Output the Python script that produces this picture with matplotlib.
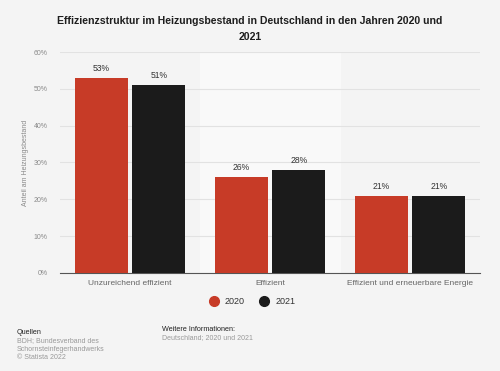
import matplotlib
matplotlib.use("Agg")
import matplotlib.pyplot as plt
import numpy as np
from matplotlib.lines import Line2D

categories = ["Unzureichend effizient", "Effizient", "Effizient und erneuerbare Energie"]
series_names = ["2020", "2021"]
values_2020 = [53, 26, 21]
values_2021 = [51, 28, 21]
yticks = [0, 10, 20, 30, 40, 50, 60]
ytick_labels = ["0%", "10%", "20%", "30%", "40%", "50%", "60%"]

red = "#c73b27"
black = "#1b1b1b"
bg = "#f4f4f4"

plt.rcParams['font.family'] = ['Liberation Sans', 'DejaVu Sans']

fig = plt.figure(figsize=(5, 3.71), dpi=100, facecolor=bg)
ax = fig.add_axes([0.12, 0.2642, 0.84, 0.5956])
ax.set_facecolor(bg)

x = np.arange(len(categories))
w = 0.375
gap = 0.035
ax.axvspan(0.5, 1.5, color="#f9f9f9", zorder=0)
b1 = ax.bar(x - w/2 - gap/2, values_2020, w, color=red, zorder=3)
b2 = ax.bar(x + w/2 + gap/2, values_2021, w, color=black, zorder=3)
for bars, vals in ((b1, values_2020), (b2, values_2021)):
    for r, v in zip(bars, vals):
        ax.text(r.get_x() + r.get_width()/2, v + 1.3, f"{v}%", ha="center", va="bottom",
                fontsize=6.2, color="#333333", zorder=4)

ax.set_xlim(-0.5, 2.5)
ax.set_ylim(0, 60)
ax.set_yticks(yticks)
ax.set_yticklabels(ytick_labels)
ax.set_xticks(x)
ax.set_xticklabels(categories)
ax.grid(axis="y", color="#e2e2e2", linewidth=0.8, zorder=1)
ax.set_axisbelow(True)
for s in ["top", "right", "left"]:
    ax.spines[s].set_visible(False)
ax.spines["bottom"].set_color("#555555")
ax.spines["bottom"].set_linewidth(0.8)
ax.tick_params(axis="y", length=0, labelsize=5, labelcolor="#8a8a8a", pad=9)
ax.tick_params(axis="x", length=0, labelsize=6, labelcolor="#666666", pad=5)
ax.set_ylabel("Anteil am Heizungsbestand", fontsize=5, color="#8a8a8a", labelpad=3)

fig.text(0.5, 0.958, "Effizienzstruktur im Heizungsbestand in Deutschland in den Jahren 2020 und\n2021",
         ha="center", va="top", fontsize=7.6, fontweight="bold", color="#1e1e1e", linespacing=1.75)

handles = [Line2D([], [], marker="o", linestyle="", markersize=7, color=c) for c in (red, black)]
fig.legend(handles, series_names, loc="center", bbox_to_anchor=(0.5, 0.188), ncol=2, frameon=False,
           fontsize=6.5, handletextpad=0.2, columnspacing=1.2, labelcolor="#333333")

fig.text(0.034, 0.105, "Quellen", fontsize=5.2, color="#222222", va="center")
fig.text(0.034, 0.081, "BDH; Bundesverband des", fontsize=5, color="#999999", va="center")
fig.text(0.034, 0.059, "Schornsteinfegerhandwerks", fontsize=5, color="#999999", va="center")
fig.text(0.034, 0.037, "© Statista 2022", fontsize=5, color="#999999", va="center")
fig.text(0.324, 0.113, "Weitere Informationen:", fontsize=5.2, color="#222222", va="center")
fig.text(0.324, 0.090, "Deutschland; 2020 und 2021", fontsize=5, color="#999999", va="center")

fig.savefig("out.png", dpi=100, facecolor=bg)
